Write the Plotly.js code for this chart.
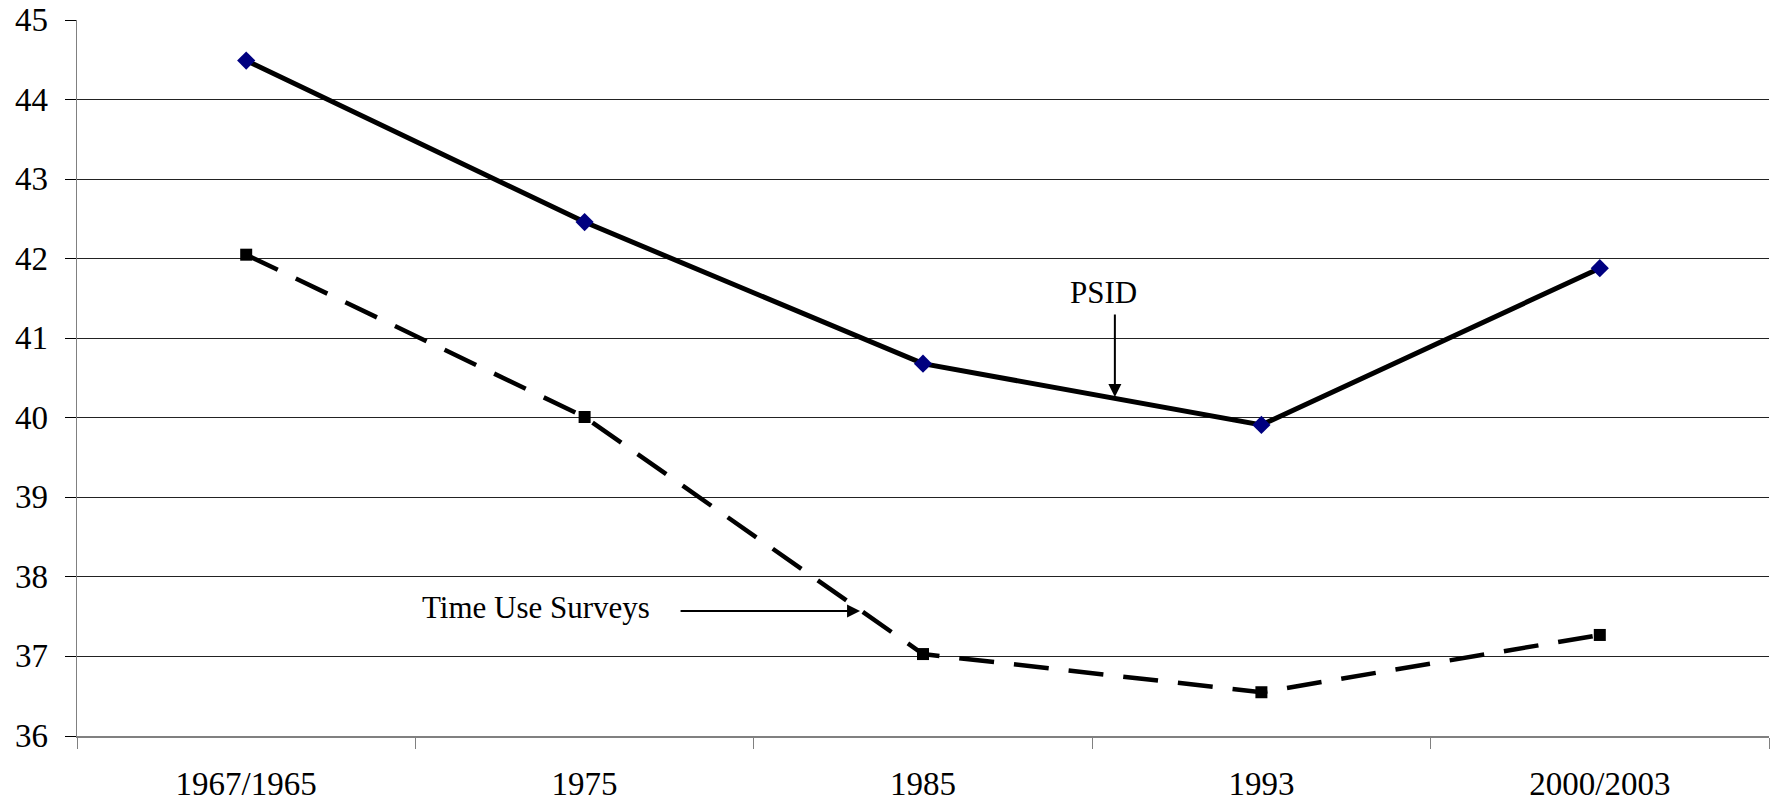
<!DOCTYPE html>
<html>
<head>
<meta charset="utf-8">
<script src="https://cdn.plot.ly/plotly-3.0.1.min.js"></script>
<style>html,body{margin:0;padding:0;background:#fff;}#chart{width:1771px;height:804px;}</style>
</head>
<body>
<div id="chart"></div>
<script>
const categories = ["1967/1965", "1975", "1985", "1993", "2000/2003"];
const psid = [44.49, 42.46, 40.68, 39.91, 41.88];
const timeUse = [42.05, 40.01, 37.03, 36.55, 37.27];
const yTicks = [36, 37, 38, 39, 40, 41, 42, 43, 44, 45];

const FAMILY = 'Liberation Serif, Times New Roman, serif';
function f(size) { return {family: FAMILY, size: size, color: '#000'}; }

const traces = [
  {
    x: categories, y: psid, type: 'scatter', mode: 'lines+markers', name: 'PSID',
    line: {color: '#000', width: 5},
    marker: {symbol: 'diamond', size: 14, color: '#000080'}
  },
  {
    x: categories, y: timeUse, type: 'scatter', mode: 'lines+markers', name: 'Time Use Surveys',
    line: {color: '#000', width: 4.5, dash: '35px,20px'},
    marker: {symbol: 'square', size: 12, color: '#000'}
  }
];

// y tick labels drawn as annotations so they sit close to the tick marks, as in the reference
const yLabelAnnotations = yTicks.map(v => ({
  x: -0.016, xref: 'paper', xanchor: 'right', y: v, yref: 'y', yanchor: 'middle',
  text: String(v), showarrow: false, font: f(33)
}));

const layout = {
  width: 1771, height: 804,
  margin: {l: 77, r: 2, t: 20, b: 68},
  paper_bgcolor: '#fff', plot_bgcolor: '#fff',
  showlegend: false,
  font: f(33),
  xaxis: {
    type: 'category', range: [-0.5, 4.5],
    tickson: 'boundaries', ticks: 'outside', ticklen: 11, tickcolor: '#808080', tickwidth: 1,
    showgrid: false, showline: true, linecolor: '#808080', linewidth: 1.5,
    tickfont: f(33), ticklabelstandoff: 18,
    zeroline: false
  },
  yaxis: {
    range: [36, 45], tickvals: yTicks, showticklabels: false,
    ticks: 'outside', ticklen: 11, tickcolor: '#000', tickwidth: 1,
    showgrid: true, gridcolor: '#222', gridwidth: 1,
    showline: true, linecolor: '#808080', linewidth: 1.5,
    zeroline: false
  },
  annotations: yLabelAnnotations.concat([
    {x: 2.532, y: 41.58, xref: 'x', yref: 'y', text: 'PSID', showarrow: false, font: f(31)},
    {x: 2.567, y: 40.26, xref: 'x', yref: 'y', text: '', showarrow: true,
     axref: 'pixel', ayref: 'pixel', ax: 0, ay: -84,
     arrowhead: 2, arrowsize: 1.3, arrowwidth: 2, arrowcolor: '#000'},
    {x: 0.856, y: 37.62, xref: 'x', yref: 'y', text: 'Time Use Surveys', showarrow: false, font: f(31)},
    {x: 1.814, y: 37.57, xref: 'x', yref: 'y', text: '', showarrow: true,
     axref: 'pixel', ayref: 'pixel', ax: -181, ay: 0,
     arrowhead: 2, arrowsize: 1.3, arrowwidth: 2, arrowcolor: '#000'}
  ])
};

Plotly.newPlot('chart', traces, layout, {displayModeBar: false, staticPlot: true});
</script>
</body>
</html>
